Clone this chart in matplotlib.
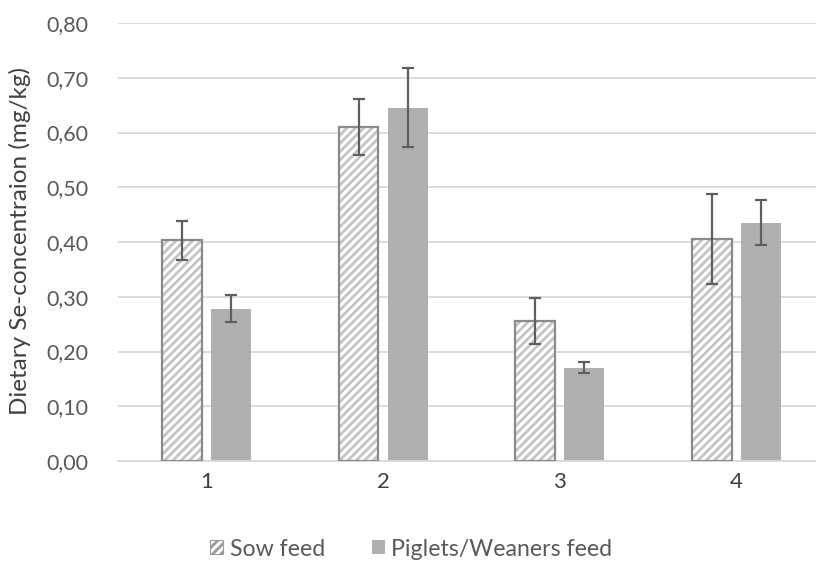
import matplotlib
matplotlib.use("Agg")
import matplotlib.pyplot as plt
import numpy as np
from matplotlib.patches import Patch

categories = ["1", "2", "3", "4"]
sow = [0.403, 0.610, 0.256, 0.405]
sow_err = [0.035, 0.052, 0.042, 0.082]
piglets = [0.278, 0.645, 0.170, 0.435]
piglets_err = [0.025, 0.072, 0.010, 0.041]
yticks = [0.0, 0.1, 0.2, 0.3, 0.4, 0.5, 0.6, 0.7, 0.8]
ytick_labels = ["0,00", "0,10", "0,20", "0,30", "0,40", "0,50", "0,60", "0,70", "0,80"]

plt.rcParams['font.family'] = ['Lato', 'DejaVu Sans']
plt.rcParams['font.weight'] = 'normal'
plt.rcParams['hatch.linewidth'] = 2.0
plt.rcParams['hatch.color'] = '#c4c4c4'

fig = plt.figure(figsize=(8.16, 5.63), dpi=100)
ax = fig.add_axes([118/816, 1 - 461/563, (816-118)/816, (461-23)/563])

x = np.arange(len(categories))
w = 0.226
off = 0.139
hatch_col = '#c4c4c4'
edge_col = '#8a8a8a'
solid_col = '#b0b0b0'
err_col = '#5f5f5f'

# hatched bars
ax.bar(x - off, sow, w, color='white', hatch='////', edgecolor=hatch_col, linewidth=0, zorder=2)
ax.bar(x - off, sow, w, fill=False, edgecolor=edge_col, linewidth=1.6, zorder=3)
ax.errorbar(x - off, sow, yerr=sow_err, fmt='none', ecolor=err_col, elinewidth=1.6,
            capsize=4.4, capthick=1.6, zorder=4)
ax.bar(x + off, piglets, w, color=solid_col, edgecolor='none', zorder=2)
ax.errorbar(x + off, piglets, yerr=piglets_err, fmt='none', ecolor=err_col, elinewidth=1.6,
            capsize=4.4, capthick=1.6, zorder=4)

ax.set_ylim(0, 0.8)
ax.set_xlim(-0.5, 3.45)
ax.set_yticks(yticks)
ax.set_yticklabels(ytick_labels)
ax.set_xticks(x)
ax.set_xticklabels(categories)
ax.tick_params(axis='y', length=0, pad=21, labelsize=15.5, labelcolor='#595959')
ax.tick_params(axis='x', length=0, pad=8, labelsize=16, labelcolor='#404040')
ax.grid(axis='y', color='#d9d9d9', linewidth=1.3, zorder=0)
ax.set_axisbelow(True)
for s in ['top', 'right', 'left']:
    ax.spines[s].set_visible(False)
ax.spines['bottom'].set_color('#d9d9d9')
ax.spines['bottom'].set_linewidth(1.3)

fig.text(20/816, 1 - 241/563, "Dietary Se-concentraion (mg/kg)", rotation=90,
         ha='center', va='center', fontsize=17.5, color='#404040')

handles = [Patch(facecolor='white', hatch='////', edgecolor='#9a9a9a', linewidth=0.8),
           Patch(facecolor=solid_col, edgecolor='none')]
fig.legend(handles, ["Sow feed", "Piglets/Weaners feed"], loc='center',
           bbox_to_anchor=(411.5/816, 1 - 549/563), ncol=2, frameon=False,
           fontsize=16.7, labelcolor='#595959', handlelength=0.55, handleheight=0.55,
           handletextpad=0.3, columnspacing=2.0)

fig.savefig("out.png", dpi=100)
